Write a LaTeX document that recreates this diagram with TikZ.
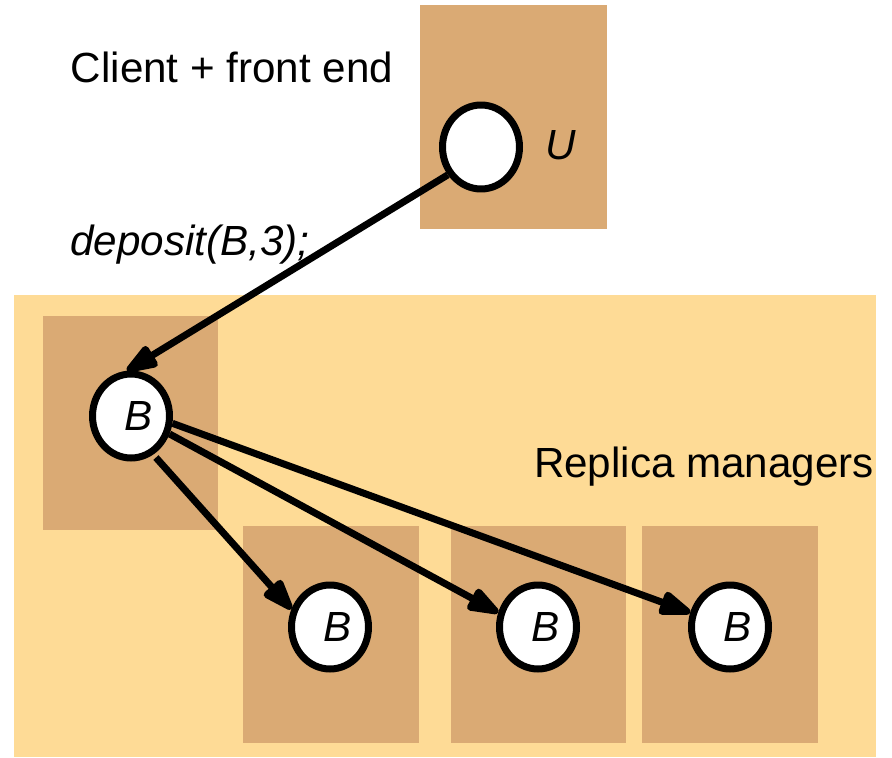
\documentclass[tikz,border=0pt]{standalone}
\usepackage{fontspec}
\setmainfont{Liberation Sans}
\usetikzlibrary{arrows.meta, shapes.geometric}

\definecolor{rmdark}{RGB}{218,170,116}
\definecolor{rmlight}{RGB}{254,219,150}

\tikzset{
    rm/.style={ellipse, draw=black, line width=0.14cm, fill=white, inner sep=0pt, minimum width=1.54cm, minimum height=1.68cm, font=\fontsize{24}{29}\selectfont\itshape},
    msg/.style={black, line width=0.14cm, -{Triangle[length=0.76cm, width=0.5cm, round]}},
}

\begin{document}
\begin{tikzpicture}[x=0.02cm, y=-0.02cm, font=\fontsize{24}{29}\selectfont]
\useasboundingbox (0,0) rectangle (892,757);

% boxes
\fill[rmlight] (14,295) rectangle (876,757);
\fill[rmdark] (420,5) rectangle (607,229);
\fill[rmdark] (43,316) rectangle (218,530);
\fill[rmdark] (243,526) rectangle (419,743);
\fill[rmdark] (451,526) rectangle (626,743);
\fill[rmdark] (642,526) rectangle (818,743);

% labels
\node[anchor=center] at (232, 67) {Client + front end};
\node[anchor=center, font=\fontsize{24}{29}\selectfont\itshape] at (190, 245) {deposit(B,3);};
\node[anchor=center] at (704, 467) {Replica managers};
\node[anchor=center, font=\fontsize{24}{29}\selectfont\itshape] at (561, 145) {U};

% front end and replica managers
\node[rm] (U) at (481, 147) {};
\node[rm] (B0) at (131, 416) {\kern0.3cm B};
\node[rm] (B1) at (330, 627) {\kern0.3cm B};
\node[rm] (B2) at (538, 627) {\kern0.3cm B};
\node[rm] (B3) at (730, 627) {\kern0.3cm B};

% messages
\draw[msg] (U.220) -- (B0.95);
\draw[msg, shorten <=0.08cm] (B0.-60) -- (B1.155);
\draw[msg] (B0.-25) -- (B2.160);
\draw[msg] (B0.-10) -- (B3.160);

\end{tikzpicture}
\end{document}
